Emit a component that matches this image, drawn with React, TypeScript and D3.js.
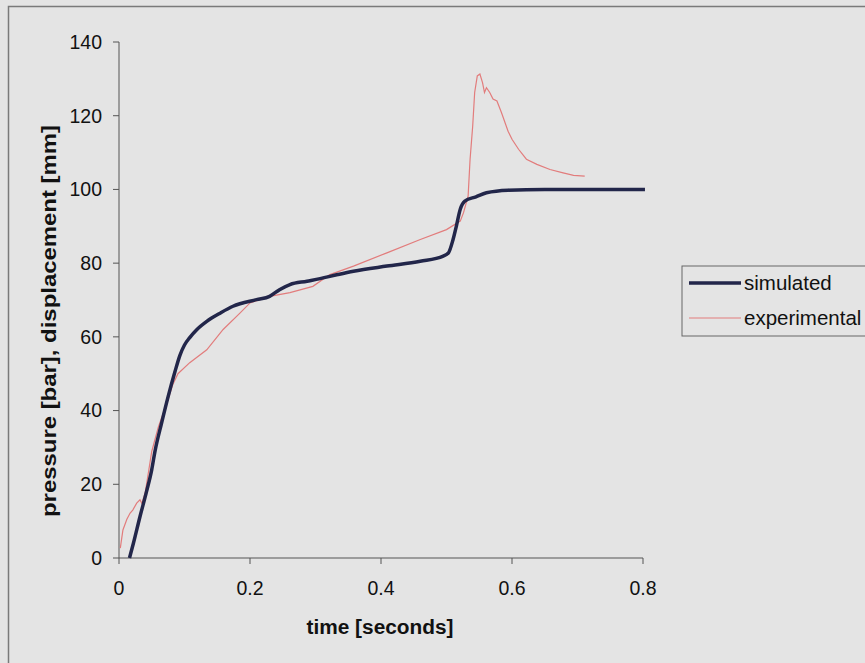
import React from "react";
import * as d3 from "d3";

const simT = [0.016, 0.022, 0.032, 0.042, 0.05, 0.055, 0.065, 0.075, 0.0855, 0.093, 0.1, 0.108, 0.119, 0.134, 0.155, 0.174, 0.21, 0.23, 0.245, 0.261, 0.287, 0.307, 0.334, 0.358, 0.409, 0.46, 0.495, 0.503, 0.51, 0.515, 0.521, 0.528, 0.545, 0.561, 0.594, 0.65, 0.803];
const simV = [0, 4, 11.2, 18, 24, 29, 36.6, 43.8, 50.6, 55, 57.8, 59.8, 62, 64.2, 66.5, 68.3, 70.1, 71, 72.8, 74.2, 75.1, 75.8, 76.9, 77.8, 79.2, 80.5, 81.9, 82.8, 86.4, 90, 94.6, 96.8, 98, 99.1, 99.8, 100, 100];

const expT = [0.002, 0.006, 0.012, 0.017, 0.021, 0.027, 0.032, 0.035, 0.04, 0.05, 0.06, 0.073, 0.082, 0.09, 0.108, 0.134, 0.159, 0.185, 0.2, 0.23, 0.261, 0.296, 0.322, 0.358, 0.409, 0.46, 0.5, 0.521, 0.526, 0.533, 0.536, 0.54, 0.543, 0.547, 0.551, 0.555, 0.558, 0.561, 0.566, 0.571, 0.577, 0.584, 0.594, 0.6, 0.61, 0.622, 0.638, 0.658, 0.678, 0.694, 0.711];
const expV = [2.7, 7.6, 10.5, 12.2, 13, 14.9, 15.8, 14.8, 17.7, 28.9, 35.5, 42, 47, 50, 53, 56.5, 62, 66.5, 69.2, 71, 72, 73.7, 76.9, 79.2, 82.8, 86.4, 89.1, 91.4, 93.7, 98.2, 108.2, 117.2, 126.3, 130.8, 131.3, 129, 126.3, 127.6, 126.3, 124.5, 124, 120.8, 115.8, 113.6, 110.9, 108.2, 106.8, 105.4, 104.5, 103.8, 103.6];

const xTicks = [0, 0.2, 0.4, 0.6, 0.8];
const yTicks = [0, 20, 40, 60, 80, 100, 120, 140];
const seriesNames = ["simulated", "experimental"];
const xTitle = "time [seconds]";
const yTitle = "pressure [bar], displacement [mm]";

const FONT = "Arial, 'Liberation Sans', sans-serif";

export default function App() {
  const x = d3.scaleLinear().domain([0, 0.8]).range([119, 643]);
  const y = d3.scaleLinear().domain([0, 140]).range([558, 42]);
  const line = d3
    .line<[number, number]>()
    .x((d) => x(d[0]))
    .y((d) => y(d[1]));
  const smooth = d3
    .line<[number, number]>()
    .x((d) => x(d[0]))
    .y((d) => y(d[1]))
    .curve(d3.curveMonotoneX);
  const sim = simT.map((t, i) => [t, simV[i]] as [number, number]);
  const exp = expT.map((t, i) => [t, expV[i]] as [number, number]);
  const simColor = "#22264a";
  const expColor = "#e27c7c";

  return (
    <svg
      width={865}
      height={663}
      style={{ position: "fixed", left: 0, top: 0 }}
      fontFamily={FONT}
    >
      <rect x={0} y={0} width={865} height={663} fill="#e4e4e4" />
      <path d="M8.5,663 V6.5 H865" fill="none" stroke="#7a7a7a" strokeWidth={1.5} />

      {/* axes */}
      <line x1={x(0)} x2={x(0)} y1={y(0)} y2={y(140)} stroke="#555" strokeWidth={1} />
      <line x1={x(0)} x2={x(0.8)} y1={y(0)} y2={y(0)} stroke="#555" strokeWidth={1} />
      {yTicks.map((v) => (
        <g key={"y" + v}>
          <line x1={x(0) - 6} x2={x(0)} y1={y(v)} y2={y(v)} stroke="#555" />
          <text x={102} y={y(v)} dy="0.35em" textAnchor="end" fontSize={19.5} fill="#111">
            {v}
          </text>
        </g>
      ))}
      {xTicks.map((t) => (
        <g key={"x" + t}>
          <line x1={x(t)} x2={x(t)} y1={y(0)} y2={y(0) + 6} stroke="#555" />
          <text x={x(t)} y={595} textAnchor="middle" fontSize={19.5} fill="#111">
            {t}
          </text>
        </g>
      ))}
      <text x={380} y={634} textAnchor="middle" fontSize={20} fontWeight="bold" fill="#111" textLength={147} lengthAdjust="spacingAndGlyphs">
        {xTitle}
      </text>
      <text
        transform={`translate(56,321) rotate(-90)`}
        textAnchor="middle"
        fontSize={21}
        fontWeight="bold"
        fill="#111"
        textLength={392}
        lengthAdjust="spacingAndGlyphs"
      >
        {yTitle}
      </text>

      {/* series */}
      <path d={line(exp) || ""} fill="none" stroke={expColor} strokeWidth={1.2} />
      <path d={smooth(sim) || ""} fill="none" stroke={simColor} strokeWidth={3.5} strokeLinejoin="round" />

      {/* legend */}
      <rect x={682} y={266} width={200} height={70} fill="#e4e4e4" stroke="#666" strokeWidth={1} />
      <line x1={689} x2={741} y1={283} y2={283} stroke={simColor} strokeWidth={3.5} />
      <line x1={689} x2={741} y1={318} y2={318} stroke={expColor} strokeWidth={1.2} />
      <text x={744} y={283} dy="0.35em" fontSize={20.5} fill="#111">
        {seriesNames[0]}
      </text>
      <text x={744} y={318} dy="0.35em" fontSize={20.5} fill="#111">
        {seriesNames[1]}
      </text>
    </svg>
  );
}
